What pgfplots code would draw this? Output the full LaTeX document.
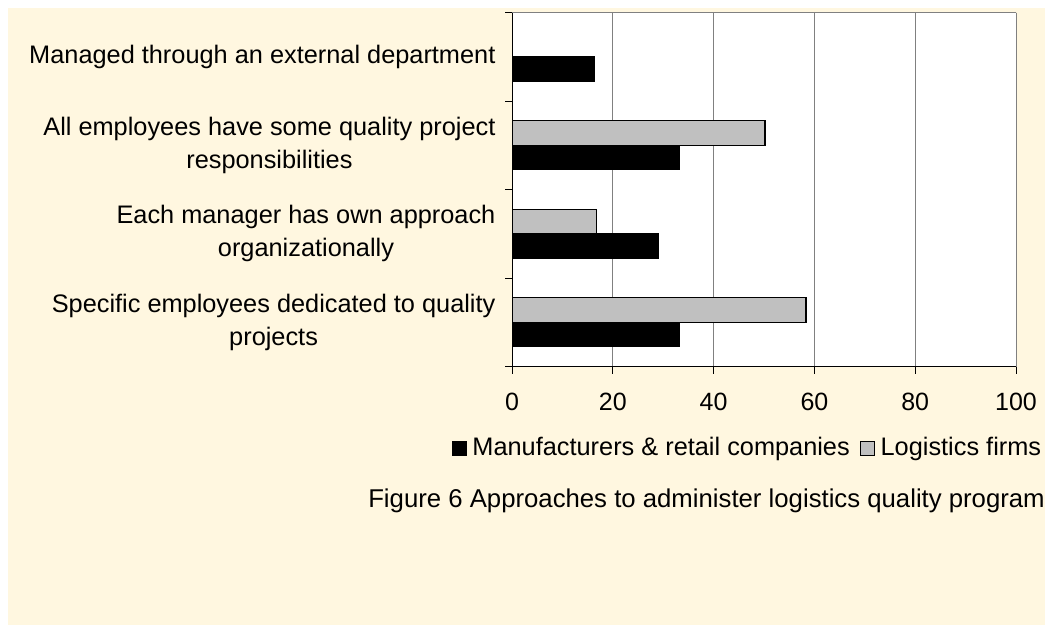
\documentclass[border=0pt]{standalone}
\usepackage{pgfplots}
\pgfplotsset{compat=1.18}
\usepackage{fontspec}
\setmainfont{Liberation Sans}
\definecolor{cream}{RGB}{255,247,224}
\definecolor{barGray}{RGB}{192,192,192}
\definecolor{gridGray}{RGB}{128,128,128}

\begin{document}
\fontsize{18.75pt}{24.75pt}\selectfont
\begin{tikzpicture}
% 1 px of the reference = 0.75pt
\clip (0pt,0pt) rectangle (783.75pt,469.5pt);
\fill[white] (0pt,0pt) rectangle (783.75pt,469.5pt);
\fill[cream] (6pt,0.75pt) rectangle (783.75pt,463.5pt);
\begin{axis}[%
    ,at={(384pt,194.625pt)},anchor=south west
    ,scale only axis,width=378pt,height=265.5pt
    ,xmin=0,xmax=100,ymin=-0.5,ymax=3.5
    ,xbar,bar width=18.4pt
    ,axis lines=left,axis line style={-,black,line width=0.75pt}
    ,axis background/.style={fill=white}
    ,xmajorgrids,grid style={gridGray,line width=0.75pt}
    ,xtick={0,20,...,100}
    ,xticklabel style={yshift=-8pt}
    ,tick align=outside,major tick length=5.25pt
    ,tick style={black,line width=0.75pt}
    ,/pgf/number format/assume math mode=true
    ,ytick={-0.5,0.5,1.5,2.5,3.5},yticklabels={}
    ,extra y ticks={0,1,2,3}
    ,extra y tick labels={{Specific employees dedicated to quality\\projects},{Each manager has own approach\\organizationally},{All employees have some quality project\\responsibilities},{Managed through an external department}}
    ,extra y tick style={major tick length=0pt,yticklabel style={align=center,xshift=-6pt,font=\fontsize{19pt}{24.75pt}\selectfont}}
    ,legend columns=2
    ,legend style={draw=none,fill=none,inner sep=0pt,at={(-0.119,-0.2316)},anchor=west,
        font=\fontsize{19pt}{24pt}\selectfont,
        /tikz/every even column/.append style={column sep=6pt}}
    ,legend image code/.code={\path[draw=none,fill=none] (0pt,0pt) -- (12.75pt,0pt);
        \draw[#1,line width=0.75pt] (0pt,-5.25pt) rectangle (10.5pt,5.25pt);}
    ]
\addplot[fill=black,draw=black,line width=0.75pt,bar shift=-9.2pt] coordinates {(33.3,0) (29.1,1) (33.3,2) (16.3,3)};
\addplot[fill=barGray,draw=black,line width=1pt,bar shift=9.2pt] coordinates {(58.3,0) (16.7,1) (50.2,2)};
\addlegendentry{Manufacturers \& retail companies}
\addlegendentry{Logistics firms}
\draw[gridGray,line width=0.75pt] (rel axis cs:0,1) -- (rel axis cs:1,1) -- (rel axis cs:1,0);
\end{axis}
\node[anchor=base west,inner sep=0pt,font=\fontsize{19.3pt}{24pt}\selectfont] at (276pt,89.25pt) {Figure 6 Approaches to administer logistics quality program};
\end{tikzpicture}
\end{document}
